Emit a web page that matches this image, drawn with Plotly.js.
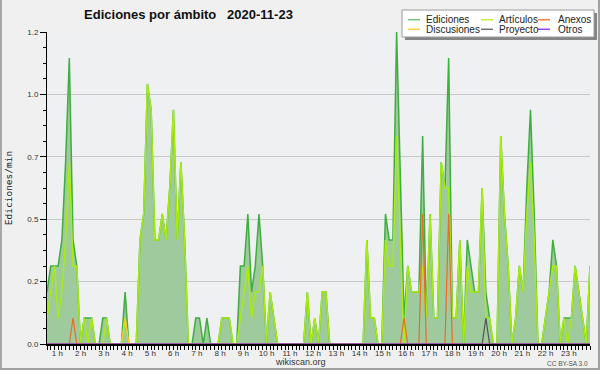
<!DOCTYPE html>
<html><head><meta charset="utf-8">
<script src="https://cdn.plot.ly/plotly-3.0.1.min.js"></script>
<style>html,body{margin:0;padding:0;background:#f0f0f0;}#chart{width:600px;height:370px;}</style>
</head><body><div id="chart"></div>
<script>
// Edits per minute, one value per 9.6-minute bin (147 bins across the day)
const ediciones = [
0.208,0.313,0.313,0.313,0.417,0.729,1.146,0.417,0.313,0,
0.104,0.104,0.104,0,0,0.104,0.104,0,0,0,
0,0.208,0,0,0,0.417,0.521,1.042,0.938,0.417,
0.417,0.521,0.417,0.625,0.938,0.417,0.729,0.417,0,0,
0.104,0.104,0,0.104,0,0,0,0.104,0.104,0.104,
0,0,0.313,0.313,0.521,0.208,0.313,0.521,0.313,0,
0.208,0.104,0,0,0,0,0,0,0,0,
0.208,0,0.104,0,0.208,0.208,0,0,0,0,
0,0,0,0,0,0,0.417,0.104,0.104,0,
0,0.521,0.417,0.417,1.25,0.625,0.104,0.313,0.208,0.208,
0.208,0.833,0.104,0.521,0.104,0.104,0.729,0.625,1.146,0.104,
0.104,0.417,0,0.417,0.313,0.208,0.208,0.625,0.208,0.104,
0,0,0.833,0.521,0.313,0,0.104,0.313,0.208,0.625,
0.938,0.521,0,0,0.104,0.208,0.417,0.313,0,0.104,
0.104,0.104,0.313,0.208,0.104,0,0.313];
const articulos = [
0.104,0.208,0.313,0.104,0.208,0.417,0.729,0.313,0.313,0,
0.104,0,0.104,0,0,0,0.104,0,0,0,
0,0.104,0,0,0,0.417,0.521,1.042,0.938,0.417,
0.417,0.521,0.417,0.625,0.938,0.417,0.729,0.417,0,0,
0,0,0,0,0,0,0,0.104,0.104,0.104,
0,0,0.104,0.208,0.313,0.104,0.208,0.208,0.313,0,
0.208,0.104,0,0,0,0,0,0,0,0,
0.208,0,0.104,0,0.208,0.208,0,0,0,0,
0,0,0,0,0,0,0.417,0.104,0.104,0,
0,0.417,0.313,0.313,0.833,0.417,0,0.313,0.208,0.208,
0.208,0.313,0.104,0.521,0.104,0.104,0.729,0.625,0.625,0.104,
0.104,0.417,0,0.313,0.208,0.208,0.208,0.625,0.104,0.104,
0,0,0.833,0.521,0.313,0,0.104,0.313,0.208,0.521,
0.729,0.417,0,0,0.104,0.208,0.313,0.313,0,0.104,
0,0.104,0.313,0.208,0.104,0,0.313];
const anexos = [
0,0,0,0,0,0,0,0.104,0,0,
0,0,0,0,0,0,0,0,0,0,
0,0,0,0,0,0,0,0,0,0,
0,0,0,0,0,0,0,0,0,0,
0,0,0,0,0,0,0,0,0,0,
0,0,0,0,0,0,0,0,0,0,
0,0,0,0,0,0,0,0,0,0,
0,0,0,0,0,0,0,0,0,0,
0,0,0,0,0,0,0,0,0,0,
0,0,0,0,0,0,0.104,0,0,0,
0,0.521,0,0,0,0,0,0,0.521,0,
0,0,0,0,0,0,0,0,0,0,
0,0,0,0,0,0,0,0,0,0,
0,0,0,0,0,0,0,0,0,0,
0,0,0,0,0,0,0];
const discusiones = [
0,0,0,0,0,0,0,0,0,0,
0,0,0,0,0,0,0,0,0,0,
0,0.104,0,0,0,0,0,0,0,0,
0,0,0,0,0,0,0,0,0,0,
0,0,0,0,0,0,0,0,0,0,
0,0,0,0,0,0,0,0,0,0,
0,0,0,0,0,0,0,0,0,0,
0,0,0,0,0,0,0,0,0,0,
0,0,0,0,0,0,0,0,0,0,
0,0,0,0,0,0,0,0,0,0,
0,0,0,0,0,0,0,0,0,0,
0,0,0,0,0,0,0,0,0,0,
0,0,0,0,0,0,0,0,0,0,
0,0,0,0,0,0,0,0,0,0,
0,0,0,0,0,0,0];
const proyecto = [
0,0,0,0,0,0,0,0,0,0,
0,0,0,0,0,0,0,0,0,0,
0,0,0,0,0,0,0,0,0,0,
0,0,0,0,0,0,0,0,0,0,
0,0,0,0,0,0,0,0,0,0,
0,0,0,0,0,0,0,0,0,0,
0,0,0,0,0,0,0,0,0,0,
0,0,0,0,0,0,0,0,0,0,
0,0,0,0,0,0,0,0,0,0,
0,0,0,0,0,0,0,0,0,0,
0,0,0,0,0,0,0,0,0,0,
0,0,0,0,0,0,0,0,0.104,0,
0,0,0,0,0,0,0,0,0,0,
0,0,0,0,0,0,0,0,0,0,
0,0,0,0,0,0,0];
const otros = [
0,0,0,0,0,0,0,0,0,0,
0,0,0,0,0,0,0,0,0,0,
0,0,0,0,0,0,0,0,0,0,
0,0,0,0,0,0,0,0,0,0,
0,0,0,0,0,0,0,0,0,0,
0,0,0,0,0,0,0,0,0,0,
0,0,0,0,0,0,0,0,0,0,
0,0,0,0,0,0,0,0,0,0,
0,0,0,0,0,0,0,0,0,0,
0,0,0,0,0,0,0,0,0,0,
0,0,0,0,0,0,0,0,0,0,
0,0,0,0,0,0,0,0,0,0,
0,0,0,0,0,0,0,0,0,0,
0,0,0,0,0,0,0,0,0,0,
0,0,0,0,0,0,0];
const seriesNames = ['Ediciones','Artículos','Anexos','Discusiones','Proyecto','Otros'];
const hourLabels = ['1 h','2 h','3 h','4 h','5 h','6 h','7 h','8 h','9 h','10 h','11 h','12 h',
  '13 h','14 h','15 h','16 h','17 h','18 h','19 h','20 h','21 h','22 h','23 h'];
const yTickVals = [0,0.25,0.5,0.75,1.0,1.25];
const yTickText = ['0.0','0.2','0.5','0.7','1.0','1.2'];
const titleText = 'Ediciones por ámbito';
const dateText = '2020-11-23';

const W=600,H=370,M={l:47,r:10,t:32,b:26};
const PW=W-M.l-M.r, PH=H-M.t-M.b;
const px = x => (x-M.l)/PW;
const py = y => (H-M.b-y)/PH;
const nb = ediciones.length;
const bins = ediciones.map((_,i)=>i);
const binsPerHour = 6.25;
const hourPos = hourLabels.map((_,i)=> binsPerHour*(i+1) - 3.45);

const colors = ['#3fae3f','#a8ec10','#f06a22','#ffc820','#555555','#9933ff'];
const legendColors = ['#70c870','#c4f040','#ff8040','#ffd040','#707070','#9a40ff'];
const data = [ediciones, articulos, anexos, discusiones, proyecto, otros];

const traces = data.map((ys,k)=>{
  const t = {x:bins, y:ys, type:'scatter', mode:'lines', name:seriesNames[k],
    line:{color:colors[k], width: k<2?1.5:1.2}, showlegend:false, hoverinfo:'skip'};
  if(k===0){ t.fill='tozeroy'; t.fillcolor='rgb(158,202,158)'; }
  return t;
});
// carrier for the hour-label axis (draws nothing)
traces.push({x:[0], y:[null], type:'scatter', mode:'lines', xaxis:'x2', yaxis:'y', showlegend:false, hoverinfo:'skip'});

const shapes = [
  {type:'line',xref:'paper',yref:'paper',x0:px(1),x1:px(1),y0:py(0),y1:py(370),line:{color:'#a8a8a8',width:2}},
  {type:'line',xref:'paper',yref:'paper',x0:px(599),x1:px(599),y0:py(0),y1:py(370),line:{color:'#a0a0a0',width:2}},
  {type:'line',xref:'paper',yref:'paper',x0:px(0),x1:px(600),y0:py(369),y1:py(369),line:{color:'#a0a0a0',width:2}},
  {type:'rect',xref:'paper',yref:'paper',x0:px(405),x1:px(597),y0:py(13),y1:py(40),fillcolor:'#858585',line:{width:0}},
  {type:'rect',xref:'paper',yref:'paper',x0:px(402),x1:px(594),y0:py(10),y1:py(37),fillcolor:'#ffffff',line:{color:'#9a9a9a',width:1}}
];
const annotations = [];
const legPos = [[408,424,19.7],[481,497,19.7],[538,555.5,19.7],[408,424,29.3],[481,497,29.3],[538,555.5,29.3]];
seriesNames.forEach((nm,k)=>{
  const [lx,tx,yy] = legPos[k];
  shapes.push({type:'line',xref:'paper',yref:'paper',x0:px(lx),x1:px(lx+12),y0:py(yy),y1:py(yy),line:{color:legendColors[k],width:1.5}});
  annotations.push({xref:'paper',yref:'paper',x:px(tx),y:py(yy),xanchor:'left',yanchor:'middle',showarrow:false,
    text:nm,font:{family:'Liberation Sans, Arial, sans-serif',size:10,color:'#222'}});
});
annotations.push({xref:'paper',yref:'paper',x:px(300),y:py(362),xanchor:'center',yanchor:'middle',showarrow:false,
  text:'wikiscan.org',font:{family:'Liberation Sans, Arial, sans-serif',size:9,color:'#333'}});
annotations.push({xref:'paper',yref:'paper',x:px(590),y:py(363),xanchor:'right',yanchor:'middle',showarrow:false,
  text:'CC BY-SA 3.0',font:{family:'Liberation Sans, Arial, sans-serif',size:6.5,color:'#555'}});

const tickFont = {family:'Liberation Sans, Arial, sans-serif',size:8,color:'#333'};
const layout = {
  width:W,height:H,margin:M,
  paper_bgcolor:'#f0f0f0',plot_bgcolor:'#eef0f2',
  title:{text:'<b>'+titleText+'\u00a0\u00a0\u00a0'+dateText+'</b>',
    font:{family:'Liberation Sans, Arial, sans-serif',size:13,color:'#111'},
    xref:'container',yref:'container',x:188.5/W,y:1-14/H,xanchor:'center',yanchor:'middle'},
  xaxis:{range:[0,nb-1],tickmode:'linear',tick0:0,dtick:1,ticks:'outside',ticklen:4,tickwidth:1,tickcolor:'#000',
    showticklabels:false,showgrid:false,zeroline:false,showline:true,linecolor:'#000',linewidth:2,fixedrange:true},
  xaxis2:{overlaying:'x',anchor:'y',side:'bottom',range:[0,nb-1],autorange:false,tickmode:'array',tickvals:hourPos,ticktext:hourLabels,
    ticks:'outside',ticklen:1,tickcolor:'rgba(0,0,0,0)',showline:false,showgrid:false,zeroline:false,tickfont:tickFont,fixedrange:true},
  yaxis:{range:[0,1.25],tickmode:'array',tickvals:yTickVals,ticktext:yTickText,ticks:'outside',ticklen:6,tickcolor:'#000',
    minor:{tick0:0,dtick:0.0625,ticks:'outside',ticklen:3,tickcolor:'#000',showgrid:false},
    showgrid:true,gridcolor:'#c8c8c8',gridwidth:1,zeroline:false,showline:true,linecolor:'#000',linewidth:1,
    tickfont:{family:'Liberation Sans, Arial, sans-serif',size:8,color:'#333'},automargin:false,fixedrange:true,
    title:{text:'Ediciones/min',font:{family:'DejaVu Sans Mono, monospace',size:9.5,color:'#222'},standoff:12}},
  shapes:shapes, annotations:annotations, showlegend:false
};
Plotly.newPlot('chart', traces, layout, {staticPlot:true, displayModeBar:false});
</script></body></html>
